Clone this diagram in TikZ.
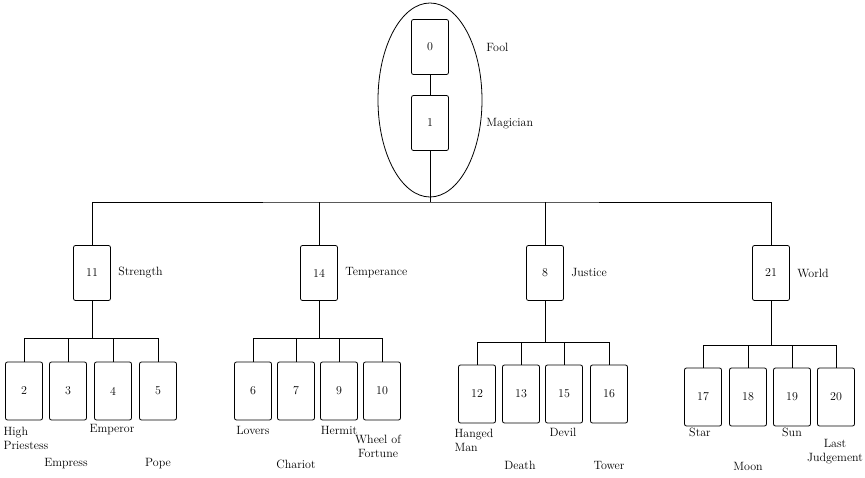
\documentclass[tikz,border=0pt]{standalone}
\usetikzlibrary{positioning}
\tikzset{
  card/.style={draw, rounded corners=2pt, minimum width=37pt, minimum height=55pt, inner sep=0pt, font=\large},
  leaf/.style={card, minimum height=58pt},
  lbl/.style={font=\large, align=left, inner sep=1pt},
}
\begin{document}
\begin{tikzpicture}[x=1pt, y=-1pt, line width=0.8pt]
\useasboundingbox (0,0) rectangle (865,478);
% top
\draw (430,100) ellipse [x radius=52, y radius=97];
\node[card] (c0) at (430,47) {0};
\node[card] (c1) at (430,123) {1};
\node[lbl, anchor=west] (l0) at (485,47) {Fool};
\node[lbl, anchor=west] (l1) at (485,124) {Magician};
\draw (c0) -- (c1);
\coordinate (top) at (430,202);
\draw (c1) -- (top);
% level 1
\node[card] (c11) at (92,273) {11};
\node[card] (c14) at (319,273) {14};
\node[card] (c8) at (545,273) {8};
\node[card] (c21) at (771,273) {21};
\node[lbl, right=6pt of c11] {Strength};
\node[lbl, right=6pt of c14] {Temperance};
\node[lbl, right=6pt of c8] {Justice};
\node[lbl, right=6pt of c21] {World};
\draw (c11.north) |- (top) -| (c21.north);
\draw (c14.north) -- ++(0,-43);
\draw (c8.north) -- ++(0,-43);
% leaves
\foreach \p/\y/\n/\a/\b/\c/\d/\xa/\xb/\xc/\xd in {
  c11/391/338/2/3/4/5/24/68/113/158,
  c14/391/338/6/7/9/10/253/296/339/382,
  c8/394/342/12/13/15/16/477/521/564/609,
  c21/397/345/17/18/19/20/703/748/792/836} {
  \node[leaf] (n\a) at (\xa,\y) {\a};
  \node[leaf] (n\b) at (\xb,\y) {\b};
  \node[leaf] (n\c) at (\xc,\y) {\c};
  \node[leaf] (n\d) at (\xd,\y) {\d};
  \draw (\p.south) -- (\p.south |- 0,\n);
  \draw (n\a.north) |- (\xd,\n) -- (n\d.north);
  \draw (n\b.north) -- (\xb,\n);
  \draw (n\c.north) -- (\xc,\n);
}
% names
\node[lbl, align=left] at (26,438) {High\\Priestess};
\node[lbl] at (66,464) {Empress};
\node[lbl] at (112,430) {Emperor};
\node[lbl] at (158,464) {Pope};
\node[lbl] at (253,430) {Lovers};
\node[lbl] at (296,464) {Chariot};
\node[lbl] at (339,430) {Hermit};
\node[lbl, align=center] at (378,446) {Wheel of\\Fortune};
\node[lbl, align=left] at (474,440) {Hanged\\Man};
\node[lbl] at (520,465) {Death};
\node[lbl] at (563,432) {Devil};
\node[lbl] at (609,465) {Tower};
\node[lbl] at (700,432) {Star};
\node[lbl] at (748,466) {Moon};
\node[lbl] at (792,432) {Sun};
\node[lbl, align=center] at (835,452) {Last\\Judgement};
\end{tikzpicture}
\end{document}
